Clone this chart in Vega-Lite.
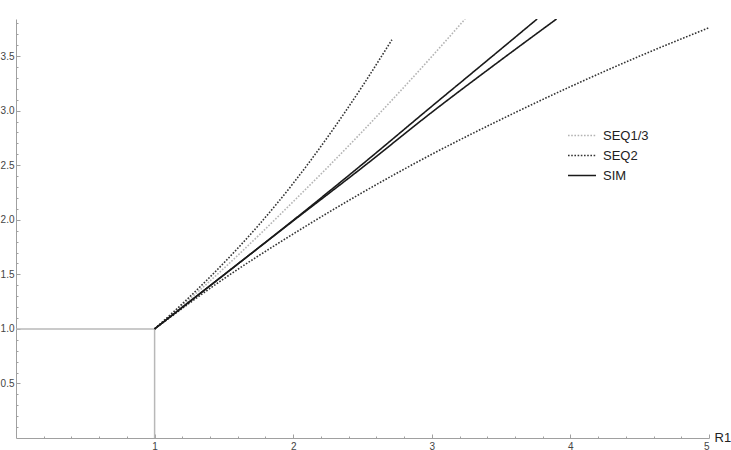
{
  "$schema": "https://vega.github.io/schema/vega-lite/v6.json",
  "width": 693,
  "height": 419,
  "autosize": {"type": "none"},
  "padding": {"left": 16, "top": 19, "right": 22, "bottom": 12},
  "background": "white",
  "config": {
    "view": {"stroke": null},
    "font": "Liberation Sans",
    "axis": {"grid": false, "domainColor": "#a0a0a0", "tickColor": "#a0a0a0", "labelColor": "#444444", "labelFontSize": 10, "labelFont": "Liberation Sans"}
  },
  "datasets": {
    "curves": [
      {"curve": "SEQ1/3", "method": "SEQ1/3", "x": 1, "y": 1},
      {"curve": "SEQ1/3", "method": "SEQ1/3", "x": 1.25, "y": 1.27},
      {"curve": "SEQ1/3", "method": "SEQ1/3", "x": 1.5, "y": 1.555},
      {"curve": "SEQ1/3", "method": "SEQ1/3", "x": 1.75, "y": 1.855},
      {"curve": "SEQ1/3", "method": "SEQ1/3", "x": 2, "y": 2.166},
      {"curve": "SEQ1/3", "method": "SEQ1/3", "x": 2.25, "y": 2.483},
      {"curve": "SEQ1/3", "method": "SEQ1/3", "x": 2.5, "y": 2.81},
      {"curve": "SEQ1/3", "method": "SEQ1/3", "x": 2.75, "y": 3.148},
      {"curve": "SEQ1/3", "method": "SEQ1/3", "x": 3, "y": 3.496},
      {"curve": "SEQ1/3", "method": "SEQ1/3", "x": 3.24, "y": 3.84},
      {"curve": "SEQ2a", "method": "SEQ2", "x": 1, "y": 1},
      {"curve": "SEQ2a", "method": "SEQ2", "x": 1.25, "y": 1.29},
      {"curve": "SEQ2a", "method": "SEQ2", "x": 1.5, "y": 1.605},
      {"curve": "SEQ2a", "method": "SEQ2", "x": 1.75, "y": 1.95},
      {"curve": "SEQ2a", "method": "SEQ2", "x": 2, "y": 2.334},
      {"curve": "SEQ2a", "method": "SEQ2", "x": 2.25, "y": 2.761},
      {"curve": "SEQ2a", "method": "SEQ2", "x": 2.5, "y": 3.226},
      {"curve": "SEQ2a", "method": "SEQ2", "x": 2.712, "y": 3.65},
      {"curve": "SEQ2b", "method": "SEQ2", "x": 1, "y": 1},
      {"curve": "SEQ2b", "method": "SEQ2", "x": 1.5, "y": 1.46},
      {"curve": "SEQ2b", "method": "SEQ2", "x": 2, "y": 1.87},
      {"curve": "SEQ2b", "method": "SEQ2", "x": 2.5, "y": 2.25},
      {"curve": "SEQ2b", "method": "SEQ2", "x": 3, "y": 2.6},
      {"curve": "SEQ2b", "method": "SEQ2", "x": 3.5, "y": 2.92},
      {"curve": "SEQ2b", "method": "SEQ2", "x": 4, "y": 3.22},
      {"curve": "SEQ2b", "method": "SEQ2", "x": 4.5, "y": 3.5},
      {"curve": "SEQ2b", "method": "SEQ2", "x": 5, "y": 3.76},
      {"curve": "SIMa", "method": "SIM", "x": 1, "y": 1},
      {"curve": "SIMa", "method": "SIM", "x": 1.5, "y": 1.495},
      {"curve": "SIMa", "method": "SIM", "x": 2, "y": 1.995},
      {"curve": "SIMa", "method": "SIM", "x": 2.5, "y": 2.51},
      {"curve": "SIMa", "method": "SIM", "x": 3, "y": 3.04},
      {"curve": "SIMa", "method": "SIM", "x": 3.4, "y": 3.46},
      {"curve": "SIMa", "method": "SIM", "x": 3.76, "y": 3.84},
      {"curve": "SIMb", "method": "SIM", "x": 1, "y": 1},
      {"curve": "SIMb", "method": "SIM", "x": 1.5, "y": 1.495},
      {"curve": "SIMb", "method": "SIM", "x": 2, "y": 1.99},
      {"curve": "SIMb", "method": "SIM", "x": 2.5, "y": 2.48},
      {"curve": "SIMb", "method": "SIM", "x": 3, "y": 2.985},
      {"curve": "SIMb", "method": "SIM", "x": 3.5, "y": 3.465},
      {"curve": "SIMb", "method": "SIM", "x": 3.9, "y": 3.84}
    ],
    "guides": [
      {"seg": "h", "x": 0, "y": 1},
      {"seg": "h", "x": 1, "y": 1},
      {"seg": "v", "x": 1, "y": 0},
      {"seg": "v", "x": 1, "y": 1}
    ]
  },
  "layer": [
    {
      "data": {"name": "guides"},
      "mark": {"type": "line", "color": "#b8b8b8", "strokeWidth": 1.5},
      "encoding": {
        "x": {"field": "x", "type": "quantitative", "scale": {"domain": [0, 5], "nice": false, "zero": false},
          "axis": {"orient": "bottom", "values": [1, 2, 3, 4, 5], "tickSize": -4, "labelPadding": 7, "title": "R1", "titleAnchor": "start", "titleAlign": "left", "titleBaseline": "middle", "titleX": 698, "titleY": -1, "titleFontSize": 13, "titleFontWeight": "normal", "titleColor": "#222222", "titleFont": "Liberation Sans"}},
        "y": {"field": "y", "type": "quantitative", "scale": {"domain": [0, 3.84], "nice": false, "zero": false},
          "axis": {"orient": "left", "values": [0.5, 1, 1.5, 2, 2.5, 3, 3.5], "format": ".1f", "tickSize": -4, "labelPadding": 6, "title": null}},
        "detail": {"field": "seg"}
      }
    },
    {
      "data": {"name": "curves"},
      "mark": {"type": "line", "interpolate": "monotone", "strokeWidth": 1.6, "clip": true},
      "encoding": {
        "x": {"field": "x", "type": "quantitative", "axis": {"orient": "bottom", "values": [0.2,0.4,0.6,0.8,1.2,1.4,1.6,1.8,2.2,2.4,2.6,2.8,3.2,3.4,3.6,3.8,4.2,4.4,4.6,4.8], "tickSize": -2, "labels": false, "domain": false, "title": null}},
        "y": {"field": "y", "type": "quantitative", "axis": {"orient": "left", "values": [0.1,0.2,0.3,0.4,0.6,0.7,0.8,0.9,1.1,1.2,1.3,1.4,1.6,1.7,1.8,1.9,2.1,2.2,2.3,2.4,2.6,2.7,2.8,2.9,3.1,3.2,3.3,3.4,3.6,3.7,3.8], "tickSize": -2, "labels": false, "domain": false, "title": null}},
        "detail": {"field": "curve"},
        "color": {"field": "method", "type": "nominal", "scale": {"domain": ["SEQ1/3", "SEQ2", "SIM"], "range": ["#b4b4b4", "#333333", "#1a1a1a"]},
          "legend": {"title": null, "orient": "none", "legendX": 559.5, "legendY": 110, "symbolType": "M-4,0H4", "symbolSize": 49, "symbolStrokeWidth": 1.5, "labelFontSize": 13, "labelFont": "Liberation Sans", "labelColor": "#222222", "labelOffset": 14.5, "rowPadding": 6, "padding": 0}},
        "strokeDash": {"field": "method", "type": "nominal", "scale": {"domain": ["SEQ1/3", "SEQ2", "SIM"], "range": [[1.6, 1.6], [1.6, 1.6], [1, 0]]}, "legend": {"title": null}}
      }
    }
  ],
  "resolve": {"axis": {"x": "independent", "y": "independent"}}
}
